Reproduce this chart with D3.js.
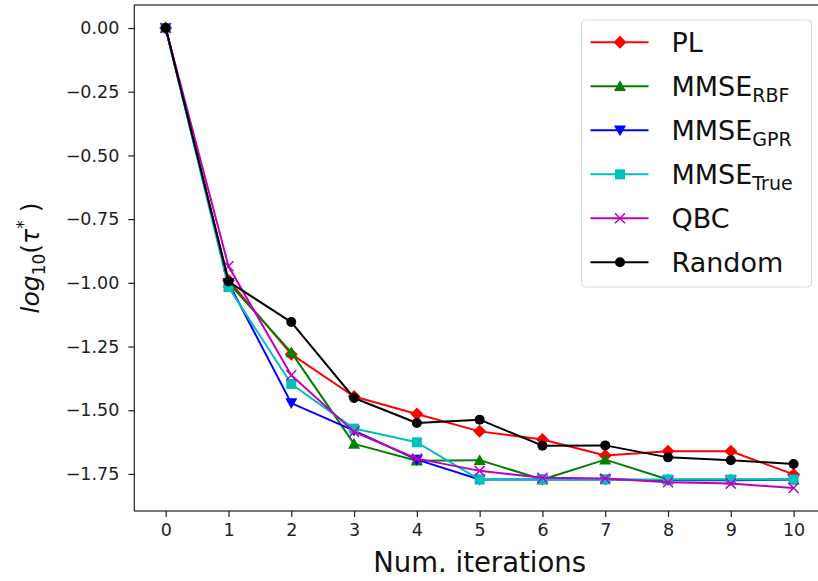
<!DOCTYPE html>
<html>
<head>
<meta charset="utf-8">
<script src="https://cdn.jsdelivr.net/npm/d3@7"></script>
<style>
  body { margin: 0; background: #fff; }
  svg { display: block; font-family: "DejaVu Sans", sans-serif; }
</style>
</head>
<body>
<svg id="vis" width="818" height="581"></svg>
<script>
// data
const iterations = [0, 1, 2, 3, 4, 5, 6, 7, 8, 9, 10];
const plValues     = [0, -0.99, -1.28, -1.446, -1.515, -1.583, -1.615, -1.678, -1.661, -1.661, -1.752];
const rbfValues    = [0, -1.0, -1.273, -1.632, -1.698, -1.696, -1.772, -1.694, -1.772, -1.772, -1.772];
const gprValues    = [0, -1.0, -1.472, -1.58, -1.694, -1.772, -1.772, -1.772, -1.775, -1.775, -1.772];
const trueValues   = [0, -1.017, -1.397, -1.572, -1.626, -1.772, -1.772, -1.772, -1.772, -1.772, -1.772];
const qbcValues    = [0, -0.935, -1.363, -1.585, -1.69, -1.738, -1.765, -1.768, -1.783, -1.788, -1.805];
const randomValues = [0, -0.995, -1.154, -1.452, -1.55, -1.537, -1.639, -1.638, -1.685, -1.696, -1.711];
const yTicks = [0, -0.25, -0.5, -0.75, -1.0, -1.25, -1.5, -1.75];

const SERIES = [
  {name: "PL", sub: "", values: plValues, color: "#ff0000", marker: "diamond"},
  {name: "MMSE", sub: "RBF", values: rbfValues, color: "#008000", marker: "triUp"},
  {name: "MMSE", sub: "GPR", values: gprValues, color: "#0000ff", marker: "triDown"},
  {name: "MMSE", sub: "True", values: trueValues, color: "#00bfbf", marker: "square"},
  {name: "QBC", sub: "", values: qbcValues, color: "#bf00bf", marker: "x"},
  {name: "Random", sub: "", values: randomValues, color: "#000000", marker: "circle"}
];

const MARGINS = {top: 5, bottom: 70, left: 134.3, right: -7};
const W = 818, H = 581;

const svg = d3.select("#vis");

const x = d3.scaleLinear().domain([-0.5, 10.5]).range([MARGINS.left, W - MARGINS.right]);
const y = d3.scaleLinear().domain([-1.8955, 0.0903]).range([H - MARGINS.bottom, MARGINS.top]);

function drawMarker(g, type, color, cx, cy) {
  if (type === "circle") {
    g.append("circle").attr("cx", cx).attr("cy", cy).attr("r", 5).attr("fill", color);
  } else if (type === "square") {
    g.append("rect").attr("x", cx - 5).attr("y", cy - 5).attr("width", 10).attr("height", 10).attr("fill", color);
  } else if (type === "diamond") {
    const s = 6.5;
    g.append("path").attr("d", `M${cx},${cy - s}L${cx + s},${cy}L${cx},${cy + s}L${cx - s},${cy}Z`).attr("fill", color);
  } else if (type === "triUp") {
    const s = 6;
    g.append("path").attr("d", `M${cx},${cy - s}L${cx + s},${cy + s * 0.8}L${cx - s},${cy + s * 0.8}Z`).attr("fill", color);
  } else if (type === "triDown") {
    const s = 6;
    g.append("path").attr("d", `M${cx},${cy + s}L${cx + s},${cy - s * 0.8}L${cx - s},${cy - s * 0.8}Z`).attr("fill", color);
  } else if (type === "x") {
    const s = 5;
    g.append("path").attr("d", `M${cx - s},${cy - s}L${cx + s},${cy + s}M${cx - s},${cy + s}L${cx + s},${cy - s}`)
      .attr("stroke", color).attr("stroke-width", 1.5).attr("fill", "none");
  }
}

// series
const line = d3.line().x((d, i) => x(iterations[i])).y(d => y(d));
SERIES.forEach(s => {
  const g = svg.append("g");
  g.append("path").datum(s.values).attr("d", line)
    .attr("fill", "none").attr("stroke", s.color).attr("stroke-width", 2).attr("stroke-linejoin", "round");
  s.values.forEach((v, i) => drawMarker(g, s.marker, s.color, x(iterations[i]), y(v)));
});

// axes
const xAxis = svg.append("g").attr("transform", `translate(0,${H - MARGINS.bottom})`)
  .call(d3.axisBottom(x).tickValues(iterations).tickSize(6).tickPadding(7).tickFormat(d3.format("d")));
const yAxis = svg.append("g").attr("transform", `translate(${MARGINS.left},0)`)
  .call(d3.axisLeft(y).tickValues(yTicks).tickSize(6).tickPadding(9)
    .tickFormat(d => d3.format(".2f")(d).replace("-", "\u2212")));
[xAxis, yAxis].forEach(a => {
  a.select(".domain").remove();
  a.selectAll("line").attr("stroke", "#222").attr("stroke-width", 1.2);
  a.selectAll("text").attr("fill", "#222").style("font-family", "DejaVu Sans").style("font-size", "17.5px");
});

// frame (right side falls outside the picture)
svg.append("rect").attr("x", MARGINS.left).attr("y", MARGINS.top)
  .attr("width", x(10.5) - MARGINS.left).attr("height", H - MARGINS.bottom - MARGINS.top)
  .attr("fill", "none").attr("stroke", "#222").attr("stroke-width", 1.2);

// axis labels
svg.append("text").attr("x", (MARGINS.left + x(10.5)) / 2).attr("y", 571.5)
  .attr("text-anchor", "middle").style("font-size", "27.5px")
  .attr("fill", "#111").text("Num. iterations");

const yl = svg.append("text").attr("transform", `translate(39,${(MARGINS.top + H - MARGINS.bottom) / 2}) rotate(-90)`)
  .attr("text-anchor", "middle").style("font-size", "25px").attr("fill", "#111");
yl.append("tspan").style("font-style", "italic").text("log");
yl.append("tspan").attr("dy", 6).style("font-size", "17px").text("10");
yl.append("tspan").attr("dy", -6).text("(");
yl.append("tspan").style("font-style", "italic").text("\u03c4");
yl.append("tspan").attr("dy", -10).style("font-size", "17px").text("*");
yl.append("tspan").attr("dy", 10).text(" )");

// legend
const legend = svg.append("g").attr("transform", "translate(581.5,20)");
legend.append("rect").attr("width", 230).attr("height", 267).attr("rx", 4)
  .attr("fill", "#fff").attr("fill-opacity", 0.8).attr("stroke", "#d8d8d8").attr("stroke-width", 1);
SERIES.forEach((s, i) => {
  const cy = 22.3 + i * 44;
  const row = legend.append("g");
  row.append("line").attr("x1", 9).attr("x2", 67).attr("y1", cy).attr("y2", cy)
    .attr("stroke", s.color).attr("stroke-width", 2);
  drawMarker(row, s.marker, s.color, 38.5, cy);
  const t = row.append("text").attr("x", 90).attr("y", cy + 9.5).style("font-size", "27px").attr("fill", "#111");
  t.append("tspan").text(s.name);
  if (s.sub) t.append("tspan").attr("dy", 6).style("font-size", "19px").text(s.sub);
});
</script>
</body>
</html>
